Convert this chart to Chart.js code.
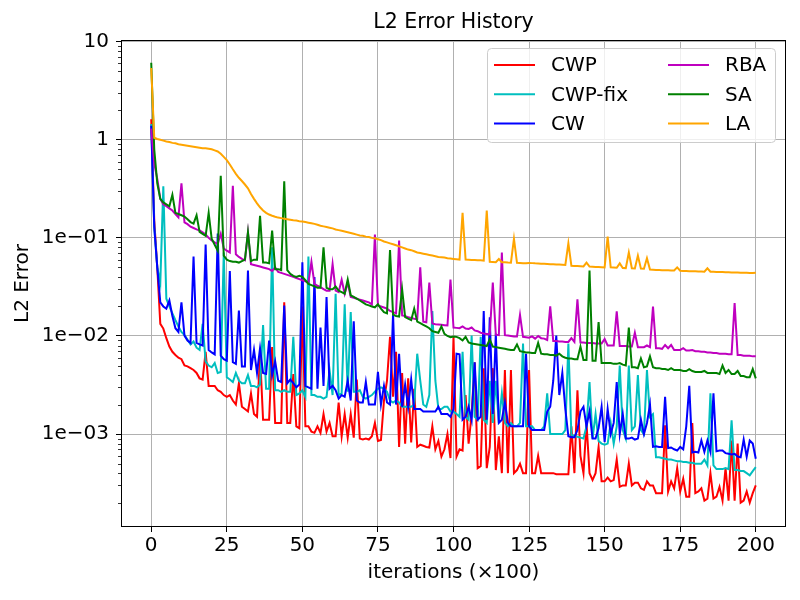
<!DOCTYPE html>
<html>
<head>
<meta charset="utf-8">
<script src="https://cdn.jsdelivr.net/npm/chart.js@4"></script>
<style>
  html, body { margin: 0; padding: 0; background: #fff; }
</style>
</head>
<body>
<canvas id="chart" width="800" height="600"></canvas>
<script>
// L2 error history, log y axis, one point per 100 iterations

const iterations = Array.from({ length: 201 }, (_, i) => i);

const chartTitle = 'L2 Error History';
const xTicks = [0, 25, 50, 75, 100, 125, 150, 175, 200];
const yTicks = [1e-3, 1e-2, 1e-1, 1, 10];
const yTickLabels = ['1e\u221203', '1e\u221202', '1e\u221201', '1', '10'];

const seriesNames = ['CWP', 'CWP-fix', 'CW', 'RBA', 'SA', 'LA'];
const seriesColors = ['#ff0000', '#00bfbf', '#0000ff', '#bf00bf', '#008000', '#ffa500'];

const cwp = [
  1.62, 0.15, 0.05, 0.0133, 0.0119, 0.0095, 0.0078, 0.0069, 0.0064, 0.006,
  0.0058, 0.005, 0.0049, 0.0047, 0.0045, 0.0042, 0.0037, 0.0036, 0.0069, 0.0031,
  0.0031, 0.0031, 0.0028, 0.0027, 0.0025, 0.0024, 0.0025, 0.0022, 0.002, 0.0033,
  0.0019, 0.0018, 0.0017, 0.0026, 0.0016, 0.0015, 0.0065, 0.0014, 0.0014, 0.0014,
  0.0077, 0.0013, 0.0013, 0.0013, 0.022, 0.0013, 0.0013, 0.0041, 0.0012, 0.00115,
  0.02, 0.0012, 0.0012, 0.00106, 0.00103, 0.0012, 0.00103, 0.0016, 0.00106, 0.0013,
  0.00095, 0.00095, 0.0021, 0.00095, 0.0016, 0.00092, 0.0016, 0.00092, 0.0036, 0.0009,
  0.00088, 0.0009, 0.00088, 0.00095, 0.0013, 0.00085, 0.00087, 0.0022, 0.0035, 0.0098,
  0.0024, 0.0069, 0.00074, 0.0042, 0.0008, 0.0037, 0.00082, 0.0029, 0.00074, 0.00078,
  0.00076, 0.00074, 0.00073, 0.0012, 0.0007, 0.00085, 0.00059, 0.0007, 0.001, 0.00057,
  0.0098, 0.00059, 0.0007, 0.00068, 0.0025, 0.0008, 0.0016, 0.0054, 0.00045, 0.00047,
  0.0047, 0.00045, 0.00074, 0.0047, 0.00043, 0.00095, 0.0004, 0.0045, 0.0004, 0.0045,
  0.0004, 0.00043, 0.0005, 0.0004, 0.0004, 0.0045, 0.0004, 0.0004, 0.0006, 0.0004,
  0.0004, 0.0004, 0.0004, 0.0004, 0.00039, 0.00039, 0.00039, 0.00039, 0.00039, 0.0012,
  0.0004, 0.0028, 0.0006, 0.0004, 0.0013, 0.0004, 0.00034, 0.0004, 0.00074, 0.00033,
  0.00033, 0.00036, 0.00033, 0.00034, 0.00055, 0.00029, 0.0003, 0.0003, 0.0005, 0.0003,
  0.00032, 0.00032, 0.00028, 0.00027, 0.00033, 0.0003, 0.0003, 0.00025, 0.00025, 0.00025,
  0.00123, 0.00026, 0.00033, 0.00028, 0.00045, 0.00026, 0.00035, 0.00023, 0.00023, 0.0013,
  0.00025, 0.00026, 0.00028, 0.00021, 0.00022, 0.0004, 0.00022, 0.00023, 0.00029, 0.00021,
  0.00045, 0.00021, 0.00086, 0.00021, 0.0008, 0.0002, 0.00021, 0.00026, 0.0002, 0.00025,
  0.0003
];

const cwpFix = [
  1.45, 0.13, 0.05, 0.035, 0.335, 0.024, 0.02, 0.017, 0.0145, 0.0125,
  0.011, 0.0102, 0.0092, 0.0082, 0.0088, 0.0076, 0.0072, 0.0133, 0.0055, 0.005,
  0.0048, 0.0053, 0.0042, 0.0043, 0.071, 0.0038, 0.0036, 0.0034, 0.0042, 0.0035,
  0.0033, 0.0033, 0.004, 0.0031, 0.0031, 0.003, 0.0032, 0.0129, 0.0029, 0.0029,
  0.08, 0.0028, 0.0028, 0.0027, 0.0028, 0.0027, 0.0027, 0.0098, 0.0025, 0.0026,
  0.0028, 0.0024, 0.0646, 0.0025, 0.0025, 0.0024, 0.0024, 0.0023, 0.0024, 0.0045,
  0.0025, 0.027, 0.0025, 0.0026, 0.021, 0.0027, 0.0175, 0.0027, 0.0027, 0.0028,
  0.0024, 0.0023, 0.0024, 0.0025, 0.0027, 0.0029, 0.003, 0.0029, 0.0027, 0.0022,
  0.0021, 0.0022, 0.0021, 0.0019, 0.0019, 0.0019, 0.0019, 0.002, 0.0066, 0.0035,
  0.002, 0.0019, 0.0025, 0.018, 0.0035, 0.0018, 0.0018, 0.0019, 0.0019, 0.0017,
  0.0017, 0.0016, 0.0015, 0.0069, 0.0015, 0.0014, 0.0101, 0.0015, 0.0014, 0.0098,
  0.0014, 0.0013, 0.0035, 0.0013, 0.0035, 0.0013, 0.0026, 0.0013, 0.0012, 0.0013,
  0.0012, 0.0012, 0.0013, 0.0084, 0.0012, 0.0012, 0.0012, 0.0011, 0.0011, 0.0011,
  0.0012, 0.0026, 0.001, 0.001, 0.001, 0.001, 0.001, 0.0011, 0.0084, 0.00098,
  0.00096, 0.00094, 0.00092, 0.0009, 0.0012, 0.0034, 0.0009, 0.0016, 0.00085, 0.0008,
  0.00078, 0.0008, 0.0013, 0.0008, 0.0012, 0.005, 0.0011, 0.0009, 0.005, 0.0011,
  0.0012, 0.004, 0.0011, 0.001, 0.0045, 0.0015, 0.0016, 0.00058, 0.00058, 0.00057,
  0.00056, 0.00055, 0.00055, 0.00054, 0.00053, 0.00053, 0.00052, 0.00052, 0.00051, 0.00051,
  0.0005, 0.0005, 0.0005, 0.00055, 0.00048, 0.0026, 0.00048, 0.00044, 0.00044, 0.00044,
  0.00045, 0.00044, 0.00138, 0.00043, 0.00043, 0.00042, 0.00042, 0.0004, 0.00038, 0.00042,
  0.00046
];

const cw = [
  1.39, 0.13, 0.05, 0.022, 0.02, 0.019, 0.023, 0.016, 0.012, 0.011,
  0.022, 0.0101, 0.009, 0.0085, 0.0646, 0.0085, 0.0082, 0.008, 0.0855, 0.0072,
  0.0068, 0.0065, 0.111, 0.0063, 0.0058, 0.0056, 0.0458, 0.0054, 0.0052, 0.0182,
  0.0049, 0.0049, 0.0465, 0.0045, 0.0072, 0.0042, 0.0075, 0.0042, 0.0041, 0.009,
  0.004, 0.0055, 0.0035, 0.0034, 0.0204, 0.0033, 0.0036, 0.0033, 0.003, 0.0032,
  0.0565, 0.0031, 0.003, 0.0029, 0.04, 0.0029, 0.0122, 0.0031, 0.025, 0.0029,
  0.0031, 0.0028, 0.0023, 0.0025, 0.0024, 0.0035, 0.0022, 0.0141, 0.0022, 0.0021,
  0.0021, 0.0034, 0.002, 0.002, 0.002, 0.0043, 0.002, 0.0031, 0.0021, 0.002,
  0.0168, 0.002, 0.0066, 0.0019, 0.0032, 0.0019, 0.0036, 0.0018, 0.0018, 0.0018,
  0.0017, 0.0017, 0.0017, 0.0017, 0.0017, 0.0019, 0.0016, 0.0016, 0.0016, 0.0015,
  0.0018, 0.0066, 0.0065, 0.0014, 0.0015, 0.0019, 0.0014, 0.0054, 0.0014, 0.0015,
  0.018, 0.0014, 0.0155, 0.0016, 0.0106, 0.0013, 0.0014, 0.0021, 0.0013, 0.0012,
  0.0012, 0.0012, 0.0012, 0.0012, 0.0066, 0.0012, 0.0011, 0.0011, 0.0011, 0.0011,
  0.0011, 0.0017, 0.0019, 0.0035, 0.0101, 0.0025, 0.0042, 0.0018, 0.00095, 0.00093,
  0.00093, 0.0011, 0.0017, 0.0019, 0.0012, 0.0017, 0.0009, 0.0009, 0.00115, 0.0019,
  0.00083, 0.0018, 0.001, 0.0013, 0.0034, 0.001, 0.0016, 0.0009, 0.0009, 0.00092,
  0.00088, 0.0009, 0.0014, 0.001, 0.0013, 0.002, 0.00074, 0.00075, 0.00074, 0.00074,
  0.0024, 0.00072, 0.00073, 0.0007, 0.00068, 0.00074, 0.0007, 0.0012, 0.0031, 0.00065,
  0.00066, 0.00065, 0.00086, 0.00066, 0.00086, 0.00066, 0.0026, 0.00067, 0.00068, 0.00068,
  0.00064, 0.00063, 0.00062, 0.00063, 0.00059, 0.00058, 0.00088, 0.00059, 0.00086, 0.0008,
  0.00056
];

const rba = [
  1.3, 0.57, 0.4, 0.25, 0.22, 0.21, 0.2, 0.19, 0.175, 0.162,
  0.36, 0.144, 0.138, 0.13, 0.126, 0.122, 0.119, 0.114, 0.108, 0.1,
  0.094, 0.09, 0.087, 0.11, 0.078, 0.074, 0.071, 0.34, 0.068, 0.064,
  0.061, 0.059, 0.114, 0.054, 0.053, 0.052, 0.051, 0.05, 0.049, 0.048,
  0.046, 0.05, 0.045, 0.044, 0.043, 0.042, 0.041, 0.04, 0.039, 0.038,
  0.037, 0.036, 0.035, 0.057, 0.034, 0.0325, 0.0315, 0.03, 0.029, 0.029,
  0.054, 0.029, 0.028, 0.0375, 0.027, 0.035, 0.025, 0.0245, 0.024, 0.0235,
  0.023, 0.0225, 0.022, 0.021, 0.108, 0.0205, 0.02, 0.0195, 0.019, 0.018,
  0.0175, 0.017, 0.094, 0.0162, 0.016, 0.0155, 0.0153, 0.015, 0.0148, 0.05,
  0.014, 0.0138, 0.035, 0.0134, 0.0132, 0.0131, 0.013, 0.0129, 0.0128, 0.0375,
  0.0122, 0.0121, 0.012, 0.0125, 0.0119, 0.0118, 0.0122, 0.0114, 0.0112, 0.0108,
  0.0106, 0.0105, 0.0104, 0.035, 0.0103, 0.0102, 0.071, 0.0102, 0.0101, 0.01,
  0.0099, 0.0099, 0.0164, 0.0098, 0.0097, 0.0096, 0.0099, 0.0094, 0.01, 0.0095,
  0.0094, 0.0091, 0.02, 0.0089, 0.0089, 0.0088, 0.0088, 0.0087, 0.0087, 0.0095,
  0.0087, 0.0237, 0.0086, 0.0086, 0.0085, 0.0085, 0.0085, 0.0084, 0.0084, 0.0084,
  0.0093, 0.008, 0.008, 0.008, 0.0178, 0.0079, 0.0079, 0.0079, 0.0078, 0.0078,
  0.0108, 0.0077, 0.0077, 0.0077, 0.008, 0.0077, 0.02, 0.0075, 0.0075, 0.0074,
  0.0081, 0.0075, 0.0081, 0.0072, 0.0072, 0.0072, 0.0075, 0.0071, 0.0071, 0.0072,
  0.007, 0.007, 0.0069, 0.0069, 0.0068, 0.0068, 0.0067, 0.0067, 0.0066, 0.0066,
  0.0066, 0.0065, 0.0065, 0.0217, 0.0064, 0.0064, 0.0063, 0.0063, 0.0063, 0.0062,
  0.0062
];

const sa = [
  6.1, 0.8, 0.36, 0.25, 0.23, 0.22, 0.21, 0.275, 0.18, 0.175,
  0.17, 0.165, 0.155, 0.145, 0.14, 0.17, 0.115, 0.11, 0.105, 0.18,
  0.098, 0.085, 0.074, 0.43, 0.066, 0.06, 0.058, 0.057, 0.057, 0.056,
  0.058, 0.06, 0.114, 0.058, 0.06, 0.06, 0.168, 0.056, 0.056, 0.055,
  0.119, 0.048, 0.048, 0.047, 0.377, 0.047, 0.043, 0.041, 0.04, 0.041,
  0.04, 0.037, 0.034, 0.033, 0.032, 0.031, 0.031, 0.08, 0.031, 0.03,
  0.03, 0.032, 0.029, 0.028, 0.027, 0.0376, 0.026, 0.025, 0.024, 0.023,
  0.022, 0.021, 0.0205, 0.02, 0.0196, 0.021, 0.019, 0.0175, 0.017, 0.075,
  0.0165, 0.016, 0.0158, 0.03, 0.0156, 0.015, 0.0145, 0.019, 0.014, 0.0135,
  0.013, 0.0125, 0.012, 0.0112, 0.011, 0.0108, 0.0125, 0.0105, 0.01, 0.0097,
  0.0099, 0.0098, 0.0095, 0.009, 0.0098, 0.0086, 0.0084, 0.0083, 0.0082, 0.0081,
  0.008, 0.0079, 0.0092, 0.0078, 0.0077, 0.0076, 0.0075, 0.0074, 0.0073, 0.0072,
  0.0072, 0.0082, 0.007, 0.0069, 0.0068, 0.0068, 0.0067, 0.0067, 0.0085, 0.0066,
  0.0065, 0.0065, 0.0064, 0.0064, 0.0063, 0.0066, 0.0062, 0.006, 0.0059, 0.0059,
  0.0058, 0.0058, 0.0078, 0.0057, 0.0057, 0.0465, 0.0056, 0.0056, 0.0139, 0.0053,
  0.0053, 0.0053, 0.0053, 0.0052, 0.0052, 0.0053, 0.0051, 0.005, 0.0122, 0.0048,
  0.0048, 0.0047, 0.0059, 0.0048, 0.0049, 0.0062, 0.0048, 0.0047, 0.0047, 0.0046,
  0.0046, 0.0045, 0.0047, 0.0045, 0.0045, 0.0045, 0.0044, 0.0044, 0.0046, 0.0044,
  0.0043, 0.0043, 0.0043, 0.0044, 0.0042, 0.0042, 0.0042, 0.0042, 0.0041, 0.005,
  0.0042, 0.0045, 0.0041, 0.0041, 0.0044, 0.0039, 0.0039, 0.0038, 0.0038, 0.0046,
  0.0037
];

const la = [
  5.4, 1.05, 1.02, 1.0, 0.98, 0.96, 0.95, 0.93, 0.92, 0.9,
  0.89, 0.88, 0.87, 0.86, 0.85, 0.84, 0.83, 0.82, 0.82, 0.81,
  0.8, 0.78, 0.76, 0.72, 0.67, 0.62, 0.56, 0.5, 0.45, 0.41,
  0.38, 0.35, 0.32, 0.28, 0.25, 0.225, 0.205, 0.19, 0.18, 0.173,
  0.168, 0.164, 0.161, 0.159, 0.157, 0.155, 0.153, 0.151, 0.15, 0.148,
  0.147, 0.145, 0.143, 0.141, 0.139, 0.136, 0.133, 0.131, 0.129, 0.127,
  0.125, 0.122, 0.12, 0.118, 0.116, 0.114, 0.112, 0.11, 0.108, 0.106,
  0.105, 0.103, 0.102, 0.1, 0.099, 0.097, 0.095, 0.092, 0.09, 0.088,
  0.086, 0.084, 0.082, 0.08, 0.078, 0.076, 0.075, 0.073, 0.071, 0.07,
  0.069, 0.068, 0.067, 0.066, 0.065, 0.064, 0.0635, 0.063, 0.062, 0.0615,
  0.061, 0.0605, 0.06, 0.18, 0.06, 0.0598, 0.0596, 0.0594, 0.0592, 0.059,
  0.0585, 0.19, 0.057, 0.0568, 0.0566, 0.061, 0.0565, 0.0563, 0.056, 0.0558,
  0.098, 0.0556, 0.0554, 0.0552, 0.055, 0.0555, 0.0553, 0.055, 0.0548, 0.0546,
  0.0544, 0.0542, 0.054, 0.0538, 0.0536, 0.0534, 0.0532, 0.053, 0.088, 0.052,
  0.0518, 0.0516, 0.0514, 0.0512, 0.056, 0.051, 0.0508, 0.0506, 0.0504, 0.0502,
  0.05, 0.103, 0.05, 0.0498, 0.0496, 0.055, 0.0494, 0.0492, 0.071, 0.049,
  0.0488, 0.066, 0.0486, 0.0484, 0.062, 0.0475, 0.0473, 0.0471, 0.047, 0.0469,
  0.0468, 0.0467, 0.0466, 0.0465, 0.05, 0.0462, 0.046, 0.0459, 0.0458, 0.0457,
  0.0456, 0.0455, 0.0454, 0.0453, 0.049, 0.0452, 0.0451, 0.045, 0.0449, 0.0448,
  0.0447, 0.0446, 0.0445, 0.0444, 0.0443, 0.0442, 0.0441, 0.044, 0.0439, 0.0438,
  0.044
];

const seriesValues = [cwp, cwpFix, cw, rba, sa, la];

// minor log ticks 2..9 per decade, like matplotlib
const yMinorTicks = [];
for (let d = -4; d <= 0; d++) {
  for (let m = 2; m <= 9; m++) yMinorTicks.push(m * Math.pow(10, d));
}

Chart.defaults.font.family = "'DejaVu Sans', sans-serif";
Chart.defaults.font.size = 20;
Chart.defaults.color = '#000';

// title centred over the plot area, not the whole canvas
const plotTitle = {
  id: 'plotTitle',
  afterDraw(chart) {
    const { ctx, chartArea: a } = chart;
    ctx.save();
    ctx.font = "20.5px 'DejaVu Sans'";
    ctx.fillStyle = '#000';
    ctx.textAlign = 'center';
    ctx.textBaseline = 'middle';
    ctx.fillText(chartTitle, (a.left + a.right) / 2, 23);
    ctx.restore();
  }
};

// black box round the plot area
const frame = {
  id: 'frame',
  afterDatasetsDraw(chart) {
    const { ctx, chartArea: a } = chart;
    ctx.save();
    ctx.strokeStyle = '#000';
    ctx.lineWidth = 1;
    ctx.strokeRect(a.left + 0.5, a.top + 0.5, a.right - a.left - 1, a.bottom - a.top - 1);
    ctx.restore();
  }
};

const minorTicks = {
  id: 'minorTicks',
  afterDraw(chart) {
    const { ctx, chartArea: a } = chart;
    const y = chart.scales.y;
    ctx.save();
    ctx.strokeStyle = '#000';
    ctx.lineWidth = 0.8;
    yMinorTicks.forEach(v => {
      if (v < y.min || v > y.max) return;
      const py = Math.round(y.getPixelForValue(v)) + 0.5;
      ctx.beginPath();
      ctx.moveTo(a.left - 3, py);
      ctx.lineTo(a.left, py);
      ctx.stroke();
    });
    ctx.restore();
  }
};

// two column legend, filled column by column
const legendBox = {
  id: 'legendBox',
  afterDraw(chart) {
    const ctx = chart.ctx;
    const bx = 487.5, by = 48.5, bw = 288, bh = 94, r = 4;
    ctx.save();
    ctx.beginPath();
    ctx.moveTo(bx + r, by);
    ctx.arcTo(bx + bw, by, bx + bw, by + bh, r);
    ctx.arcTo(bx + bw, by + bh, bx, by + bh, r);
    ctx.arcTo(bx, by + bh, bx, by, r);
    ctx.arcTo(bx, by, bx + bw, by, r);
    ctx.closePath();
    ctx.fillStyle = 'rgba(255,255,255,0.8)';
    ctx.fill();
    ctx.strokeStyle = '#cccccc';
    ctx.lineWidth = 1;
    ctx.stroke();

    ctx.font = "20px 'DejaVu Sans'";
    ctx.textBaseline = 'middle';
    ctx.textAlign = 'left';
    seriesNames.forEach((name, i) => {
      const col = Math.floor(i / 3), row = i % 3;
      const x0 = 494 + col * 174;
      const y0 = 65 + row * 29.3;
      ctx.strokeStyle = seriesColors[i];
      ctx.lineWidth = 2;
      ctx.beginPath();
      ctx.moveTo(x0, y0);
      ctx.lineTo(x0 + 41, y0);
      ctx.stroke();
      ctx.fillStyle = '#000';
      ctx.fillText(name, x0 + 57, y0 + 1);
    });
    ctx.restore();
  }
};

const ctx = document.getElementById('chart');

new Chart(ctx, {
  type: 'line',
  data: {
    labels: iterations,
    datasets: seriesNames.map((name, i) => ({
      label: name,
      data: seriesValues[i],
      borderColor: seriesColors[i],
      backgroundColor: seriesColors[i],
      borderWidth: 2,
      pointRadius: 0,
      tension: 0,
      fill: false,
      order: seriesNames.length - i
    }))
  },
  options: {
    responsive: false,
    animation: false,
    devicePixelRatio: 1,
    layout: { padding: { left: 0, right: 14, top: 40, bottom: 0 } },
    plugins: {
      legend: { display: false },
      tooltip: { enabled: false },
      title: { display: false }
    },
    scales: {
      x: {
        type: 'linear',
        min: -10,
        max: 210,
        afterBuildTicks: s => { s.ticks = xTicks.map(v => ({ value: v })); },
        afterFit: s => { s.height = 73; },
        ticks: { padding: 2, maxRotation: 0, autoSkip: false },
        grid: { color: '#b0b0b0', lineWidth: 1, tickLength: 5, tickColor: '#000' },
        border: { display: false },
        title: { display: true, text: 'iterations (\u00d7100)', padding: { top: 0, bottom: 15 } }
      },
      y: {
        type: 'logarithmic',
        min: 1.13e-4,
        max: 10.4,
        afterBuildTicks: s => { s.ticks = yTicks.map(v => ({ value: v, major: true })); },
        afterFit: s => { s.width = 121; },
        ticks: {
          padding: 7,
          autoSkip: false,
          callback: v => {
            const i = yTicks.indexOf(v);
            return i >= 0 ? yTickLabels[i] : '';
          }
        },
        grid: { color: '#b0b0b0', lineWidth: 1, tickLength: 5, tickColor: '#000' },
        border: { display: false },
        title: { display: true, text: 'L2 Error', padding: { top: 11, bottom: 0 } }
      }
    }
  },
  plugins: [plotTitle, frame, minorTicks, legendBox]
});
</script>
</body>
</html>
